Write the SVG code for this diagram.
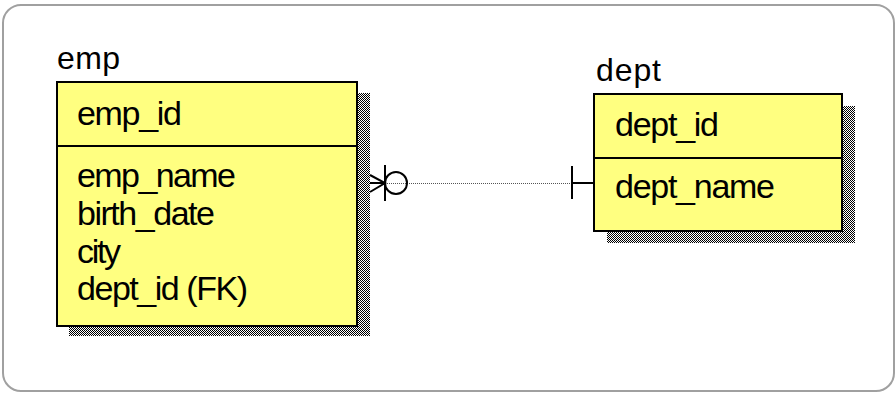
<svg xmlns="http://www.w3.org/2000/svg" width="895" height="396" viewBox="0 0 895 396">
  <defs>
    <!-- 1px checkerboard used for the drop shadows -->
    <pattern id="checker" patternUnits="userSpaceOnUse" width="2" height="2">
      <rect x="0" y="0" width="2" height="2" fill="#fff"/>
      <rect x="0" y="0" width="1" height="1" fill="#000"/>
      <rect x="1" y="1" width="1" height="1" fill="#000"/>
    </pattern>
  </defs>
  <style>
    .frame { fill: #fff; stroke: #a0a0a0; stroke-width: 2; }
    .shadow { fill: url(#checker); }
    .box { fill: #ffff80; stroke: #000; stroke-width: 2; }
    .sep { stroke: #000; stroke-width: 2; }
    .title, .attr { font-family: "Liberation Sans", Arial, sans-serif; fill: #000; }
    .title { font-size: 32px; }
    .attr { font-size: 34px; }
    .rel { stroke: #000; stroke-width: 2; fill: none; }
    .dots { stroke: #555; stroke-width: 1; stroke-dasharray: 1 1; fill: none; }
  </style>

  <rect class="frame" x="3" y="5" width="891" height="386" rx="18" ry="18"/>

  <!-- emp entity -->
  <g id="emp">
    <text class="title" x="57" y="69" textLength="63">emp</text>
    <rect class="shadow" x="69" y="93" width="301" height="243"/>
    <rect class="box" x="57" y="82" width="300" height="244"/>
    <line class="sep" x1="57" y1="146" x2="357" y2="146"/>
    <text class="attr" x="77" y="125" textLength="105">emp_id</text>
    <text class="attr" x="77" y="187" textLength="159">emp_name</text>
    <text class="attr" x="77" y="225" textLength="138">birth_date</text>
    <text class="attr" x="77" y="263" textLength="44">city</text>
    <text class="attr" x="77" y="300" textLength="171">dept_id (FK)</text>
  </g>

  <!-- dept entity -->
  <g id="dept">
    <text class="title" x="596" y="81" textLength="65">dept</text>
    <rect class="shadow" x="607" y="106" width="248" height="137"/>
    <rect class="box" x="594" y="94" width="248" height="137"/>
    <line class="sep" x1="594" y1="158" x2="842" y2="158"/>
    <text class="attr" x="615" y="136" textLength="104">dept_id</text>
    <text class="attr" x="615" y="198" textLength="160">dept_name</text>
  </g>

  <!-- relationship: dept (one) to emp (zero or many) -->
  <g id="connectors">
    <line class="dots" x1="385" y1="183.5" x2="572" y2="183.5"/>
    <!-- crow's foot with zero-optionality circle at emp end -->
    <path class="rel" d="M370 175 L385 183 L370 192 M370 183 L385 183 M385 165 L385 201"/>
    <circle class="rel" cx="396" cy="183" r="11"/>
    <!-- single bar at dept end -->
    <path class="rel" d="M572 183 L594 183 M572 166 L572 199"/>
  </g>
</svg>
